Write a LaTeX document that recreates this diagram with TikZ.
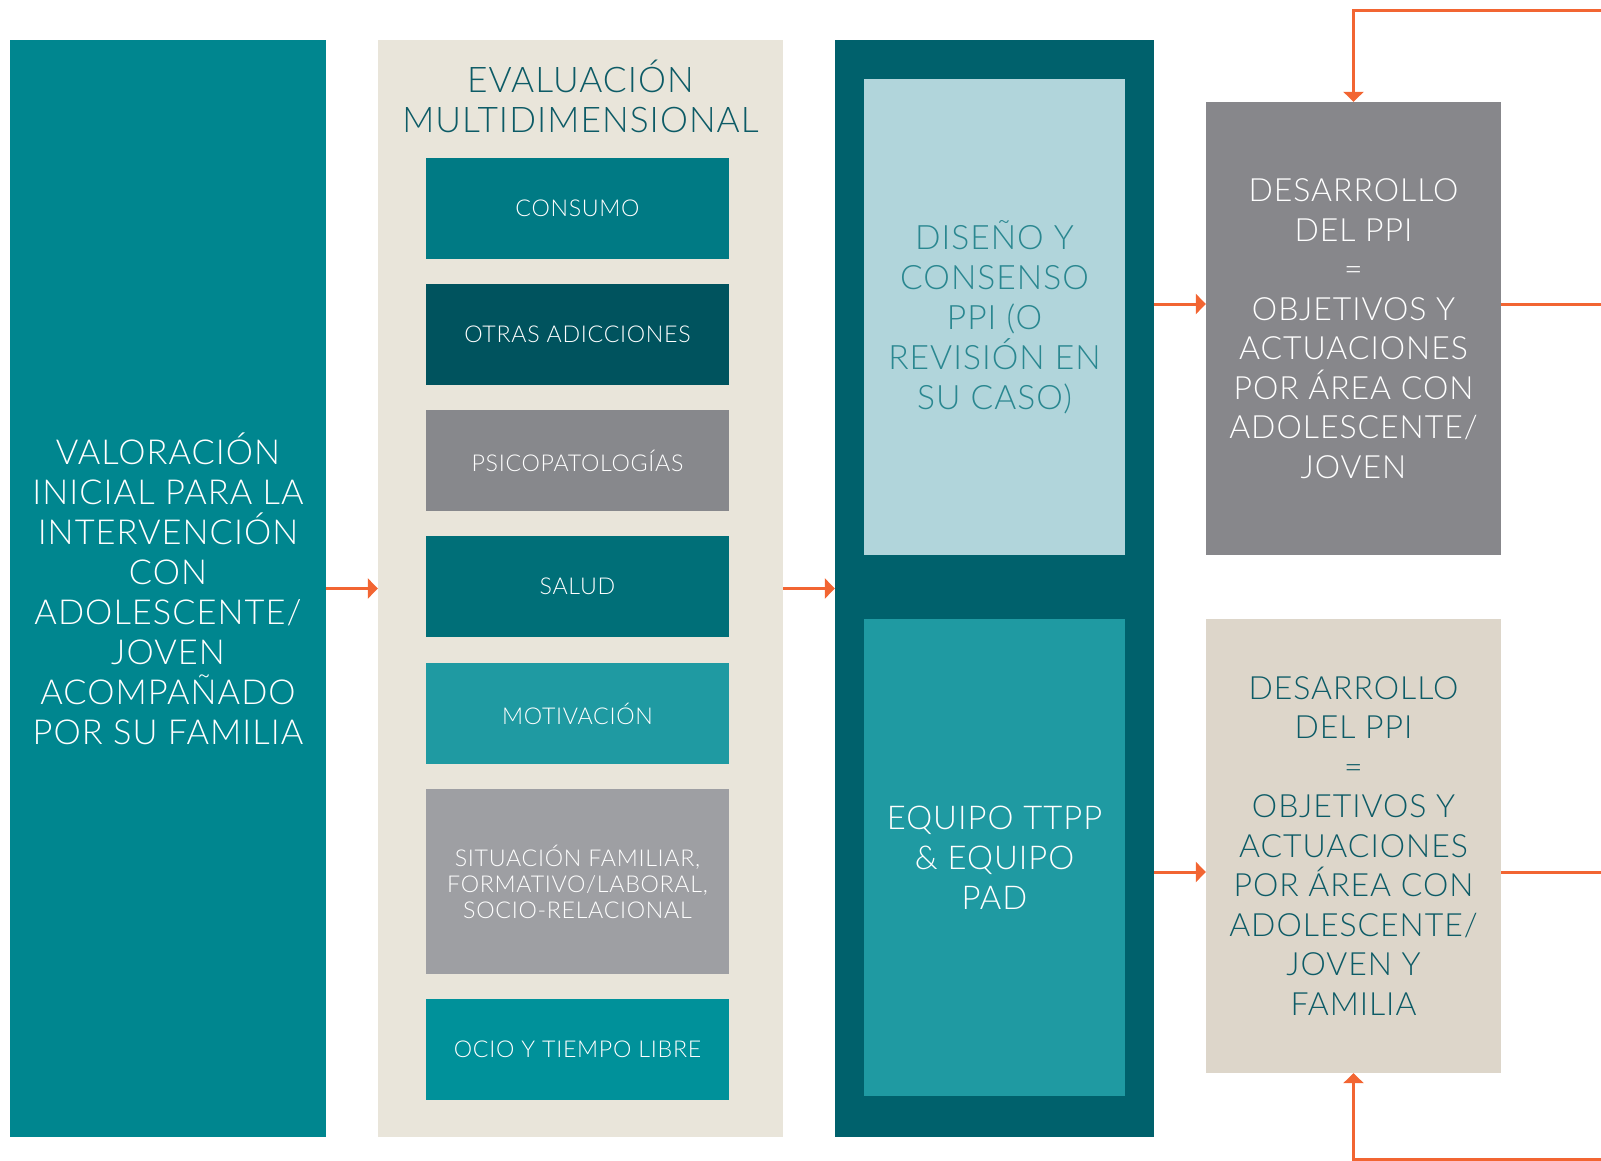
\documentclass[tikz,border=0pt]{standalone}
\usepackage{fontspec}
\setmainfont{Lato Light}[LetterSpace=3]
\usetikzlibrary{arrows.meta}

\definecolor{valcol}{HTML}{00868F}
\definecolor{evalbg}{HTML}{E9E5DA}
\definecolor{consumocol}{HTML}{007A84}
\definecolor{otrascol}{HTML}{00535E}
\definecolor{psicocol}{HTML}{87888C}
\definecolor{saludcol}{HTML}{006F78}
\definecolor{motivcol}{HTML}{1F9AA2}
\definecolor{situcol}{HTML}{9E9FA3}
\definecolor{ociocol}{HTML}{00919A}
\definecolor{panelcol}{HTML}{00616C}
\definecolor{disenocol}{HTML}{B1D5DB}
\definecolor{equipocol}{HTML}{1F9AA2}
\definecolor{desgray}{HTML}{87878B}
\definecolor{desbeige}{HTML}{DDD6CA}
\definecolor{titlecol}{HTML}{0D5B66}
\definecolor{disenotxt}{HTML}{2A8790}
\definecolor{arrcol}{HTML}{F26532}

\begin{document}
\begin{tikzpicture}[x=1pt,y=-1pt,
      box/.style={rectangle,inner sep=0pt,align=center,text=white},
      col/.style={box,minimum width=#1,minimum height=1097pt},
      item/.style={box,minimum width=303pt,minimum height=101pt,
        font=\fontsize{23.2}{26}\selectfont},
      big/.style={font=\fontsize{32}{39.5}\selectfont},
      arr/.style={draw=arrcol,line width=3pt,
        -{Triangle[length=10pt,width=20pt]}}]
      \clip (0,0) rectangle (1601,1161);

      \node[col=316pt,fill=valcol,font=\fontsize{34.4}{40}\selectfont]
        (val) at (168, 588.5) {
        VALORACIÓN\\INICIAL PARA LA\\INTERVENCIÓN\\CON\\ADOLESCENTE/\\
        JOVEN\\ACOMPAÑADO\\POR SU FAMILIA};
      \node[col=405pt,fill=evalbg] (eval) at (580.5, 588.5) {};
      \node[col=319pt,fill=panelcol] (panel) at (994.5, 588.5) {};

      \node[text=titlecol,align=center,font=\fontsize{35.3}{40}\selectfont]
        (evaltitle) at (580.5, 96) {EVALUACIÓN\\MULTIDIMENSIONAL};

      \node[item,fill=consumocol] (consumo) at (577.5, 208.5) {CONSUMO};
      \node[item,fill=otrascol] (otras) at (577.5, 334.5) {OTRAS ADICCIONES};
      \node[item,fill=psicocol] (psico) at (577.5, 460.5) {PSICOPATOLOGÍAS};
      \node[item,fill=saludcol] (salud) at (577.5, 586.5) {SALUD};
      \node[item,fill=motivcol] (motiv) at (577.5, 713.5) {MOTIVACIÓN};
      \node[item,fill=situcol,minimum height=185pt] (situ) at (577.5, 881.5) {
        SITUACIÓN FAMILIAR,\\FORMATIVO/LABORAL,\\SOCIO-RELACIONAL};
      \node[item,fill=ociocol] (ocio) at (577.5, 1049.5) {OCIO Y TIEMPO LIBRE};

      \node[box,fill=disenocol,text=disenotxt,minimum width=261pt,
        minimum height=476pt,font=\fontsize{33.6}{40}\selectfont]
        (diseno) at (994.5, 317) {
        DISEÑO Y\\CONSENSO\\PPI (O\\REVISIÓN EN\\SU CASO)};
      \node[box,fill=equipocol,minimum width=261pt,minimum height=477pt,
        font=\fontsize{32.8}{40}\selectfont]
        (equipo) at (994.5, 857.5) {EQUIPO TTPP\\\& EQUIPO\\PAD};

      \node[box,big,fill=desgray,minimum width=295pt,minimum height=453pt]
        (des1) at (1353.5, 328.5) {
        DESARROLLO\\DEL PPI\\=\\OBJETIVOS Y\\ACTUACIONES\\POR ÁREA CON\\
        ADOLESCENTE/\\JOVEN};
      \node[box,big,fill=desbeige,text=titlecol,minimum width=295pt,
        minimum height=454pt] (des2) at (1353.5, 846) {
        DESARROLLO\\DEL PPI\\=\\OBJETIVOS Y\\ACTUACIONES\\POR ÁREA CON\\
        ADOLESCENTE/\\JOVEN Y\\FAMILIA};

      \coordinate (up) at (0, 304);
      \coordinate (down) at (0, 872);
      \coordinate (far) at (1620, 0);

      \draw[arr] (val.east) -- (eval.west);
      \draw[arr] (eval.east) -- (panel.west);
      \draw[arr] (panel.east |- up) -- (des1.west |- up);
      \draw[arr] (panel.east |- down) -- (des2.west |- down);

      \draw[arr] (des1.east |- up) -- (far |- up) -- (far |- 0,11)
        -- (des1.north |- 0,11) -- (des1.north);
      \draw[arr] (des2.east |- down) -- (far |- down) -- (far |- 0,1159.5)
        -- (des2.south |- 0,1159.5) -- (des2.south);
\end{tikzpicture}
\end{document}
